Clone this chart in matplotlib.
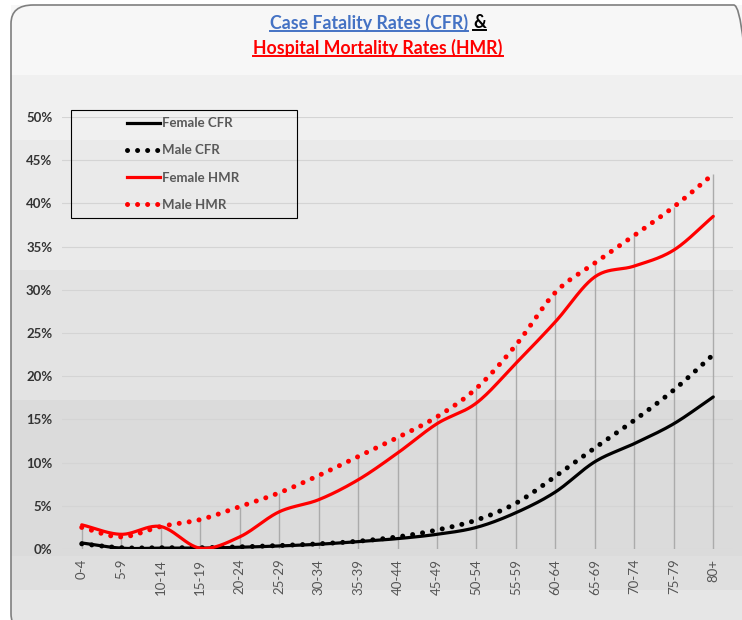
import numpy as np
import matplotlib
matplotlib.use("Agg")
import matplotlib.pyplot as plt
from matplotlib.patches import FancyBboxPatch, Rectangle
from matplotlib.lines import Line2D
from matplotlib.ticker import FuncFormatter

plt.rcParams["font.family"] = ["Lato", "DejaVu Sans"]

ages = ["0-4", "5-9", "10-14", "15-19", "20-24", "25-29", "30-34", "35-39", "40-44",
        "45-49", "50-54", "55-59", "60-64", "65-69", "70-74", "75-79", "80+"]
female_cfr = [0.7, 0.1, 0.1, 0.1, 0.2, 0.35, 0.55, 0.85, 1.2, 1.7, 2.5, 4.2, 6.6, 10.1, 12.2, 14.5, 17.6]
male_cfr = [0.6, 0.15, 0.15, 0.15, 0.25, 0.4, 0.6, 0.9, 1.4, 2.2, 3.35, 5.3, 8.4, 11.7, 14.9, 18.4, 22.5]
female_hmr = [2.8, 1.7, 2.6, 0.1, 1.4, 4.3, 5.7, 8.0, 11.1, 14.5, 16.9, 21.5, 26.3, 31.5, 32.75, 34.6, 38.5]
male_hmr = [2.5, 1.4, 2.6, 3.4, 4.9, 6.5, 8.5, 10.7, 12.9, 15.3, 18.6, 23.6, 29.7, 33.1, 36.3, 39.6, 43.4]
labels = ["Female CFR", "Male CFR", "Female HMR", "Male HMR"]


def smooth(y, n=24):
    # catmull-rom through the points, like excel's smoothed line
    x = np.arange(len(y), dtype=float)
    p = np.array(y, dtype=float)
    xs, ys = [], []
    for i in range(len(p) - 1):
        p0 = p[i - 1] if i > 0 else 2 * p[i] - p[i + 1]
        p3 = p[i + 2] if i + 2 < len(p) else 2 * p[i + 1] - p[i]
        t = np.linspace(0, 1, n, endpoint=False)
        seg = 0.5 * ((2 * p[i]) + (-p0 + p[i + 1]) * t
                     + (2 * p0 - 5 * p[i] + 4 * p[i + 1] - p3) * t ** 2
                     + (-p0 + 3 * p[i] - 3 * p[i + 1] + p3) * t ** 3)
        xs.append(x[i] + t)
        ys.append(seg)
    xs.append([x[-1]])
    ys.append([p[-1]])
    return np.concatenate(xs), np.concatenate(ys)


W, H = 742, 620
fig = plt.figure(figsize=(7.42, 6.2), dpi=100)
fig.patch.set_facecolor("white")


def fx(px):
    return px / W


def fy(py):
    return 1 - py / H


# banded gray background, pixel rows from the top
bands = [(5, 75, "#f7f7f7"), (75, 140, "#f0f0f0"), (140, 270, "#eaeaea"),
         (270, 400, "#e3e3e3"), (400, 556, "#dbdbdb"), (556, 590, "#dfdfdf"),
         (590, 620, "#e6e6e6")]
for top, bot, c in bands:
    fig.patches.append(Rectangle((fx(11), fy(bot)), fx(740), (bot - top) / H,
                                 transform=fig.transFigure, facecolor=c, edgecolor="none", zorder=-3))
frame = FancyBboxPatch((fx(11), -0.02), fx(745), 1 - 5 / H + 0.02,
                       boxstyle="round,pad=0,rounding_size=0.03", transform=fig.transFigure,
                       facecolor="none", edgecolor="#7f7f7f", linewidth=1.2, zorder=-2)
fig.patches.append(frame)

ax = fig.add_axes([fx(62), fy(549), fx(733 - 62), (549 - 117) / H])
ax.set_facecolor("none")
ax.set_xlim(-0.5, 16.5)
ax.set_ylim(0, 50)
for s in ax.spines.values():
    s.set_visible(False)
ax.set_yticks(range(0, 51, 5))
ax.yaxis.set_major_formatter(FuncFormatter(lambda v, p: f"{int(v)}%"))
ax.grid(axis="y", color="#d4d4d4", linewidth=0.8)
ax.set_axisbelow(True)
ax.tick_params(axis="y", length=0, pad=7, labelsize=9.5, labelcolor="#333333")
for t in ax.get_yticklabels():
    t.set_fontweight("bold")
ax.set_xticks(range(len(ages)))
ax.set_xticklabels(ages, rotation=90, fontsize=9.5, color="#555555")
ax.tick_params(axis="x", length=0, pad=7)

# drop lines from the top series down to the axis
top_vals = np.maximum.reduce([female_cfr, male_cfr, female_hmr, male_hmr])
ax.vlines(range(len(ages)), 0, top_vals, color="#ababab", linewidth=1, zorder=2)

dot = dict(linestyle=(0, (0.01, 2.0)), dash_capstyle="round", linewidth=3.6)
xs, ys = smooth(female_cfr)
ax.plot(xs, ys, color="black", linewidth=2.3, zorder=3, solid_capstyle="round")
xs, ys = smooth(male_cfr)
ax.plot(xs, ys, color="black", zorder=3, **dot)
xs, ys = smooth(female_hmr)
ax.plot(xs, ys, color="#ff0000", linewidth=2.3, zorder=3, solid_capstyle="round")
xs, ys = smooth(male_hmr)
ax.plot(xs, ys, color="#ff0000", zorder=3, **dot)

# legend: excel-style box with the entries pushed right
fig.patches.append(Rectangle((fx(71), fy(218)), fx(297 - 71), (218 - 110) / H,
                             transform=fig.transFigure, facecolor="none",
                             edgecolor="black", linewidth=0.8, zorder=4))
handles = [Line2D([], [], color="black", linewidth=2.3),
           Line2D([], [], color="black", **dot),
           Line2D([], [], color="#ff0000", linewidth=2.3),
           Line2D([], [], color="#ff0000", **dot)]
leg = fig.legend(handles, labels, loc="upper left", bbox_to_anchor=(fx(122), fy(112)),
                 frameon=False, handlelength=2.5, handletextpad=0.15, labelspacing=1.15,
                 borderpad=0.4, borderaxespad=0, prop={"size": 9.5, "weight": "bold"})
for t in leg.get_texts():
    t.set_color("#595959")

# title with underlines
t1 = fig.text(fx(468), fy(23), "Case Fatality Rates (CFR)", ha="right", va="center",
              fontsize=12.8, fontweight="bold", color="#4472c4")
t1b = fig.text(fx(473), fy(23), "&", ha="left", va="center",
               fontsize=12.8, fontweight="bold", color="black")
t2 = fig.text(fx(378), fy(48), "Hospital Mortality Rates (HMR)", ha="center", va="center",
              fontsize=12.8, fontweight="bold", color="#ff0000")
fig.canvas.draw()
r = fig.canvas.get_renderer()
for t in (t1, t1b, t2):
    bb = t.get_window_extent(r).transformed(fig.transFigure.inverted())
    fig.add_artist(Line2D([bb.x0, bb.x1], [bb.y0 + 0.002, bb.y0 + 0.002], transform=fig.transFigure,
                          color=t.get_color(), linewidth=1.4))

fig.savefig("out.png", dpi=100)
